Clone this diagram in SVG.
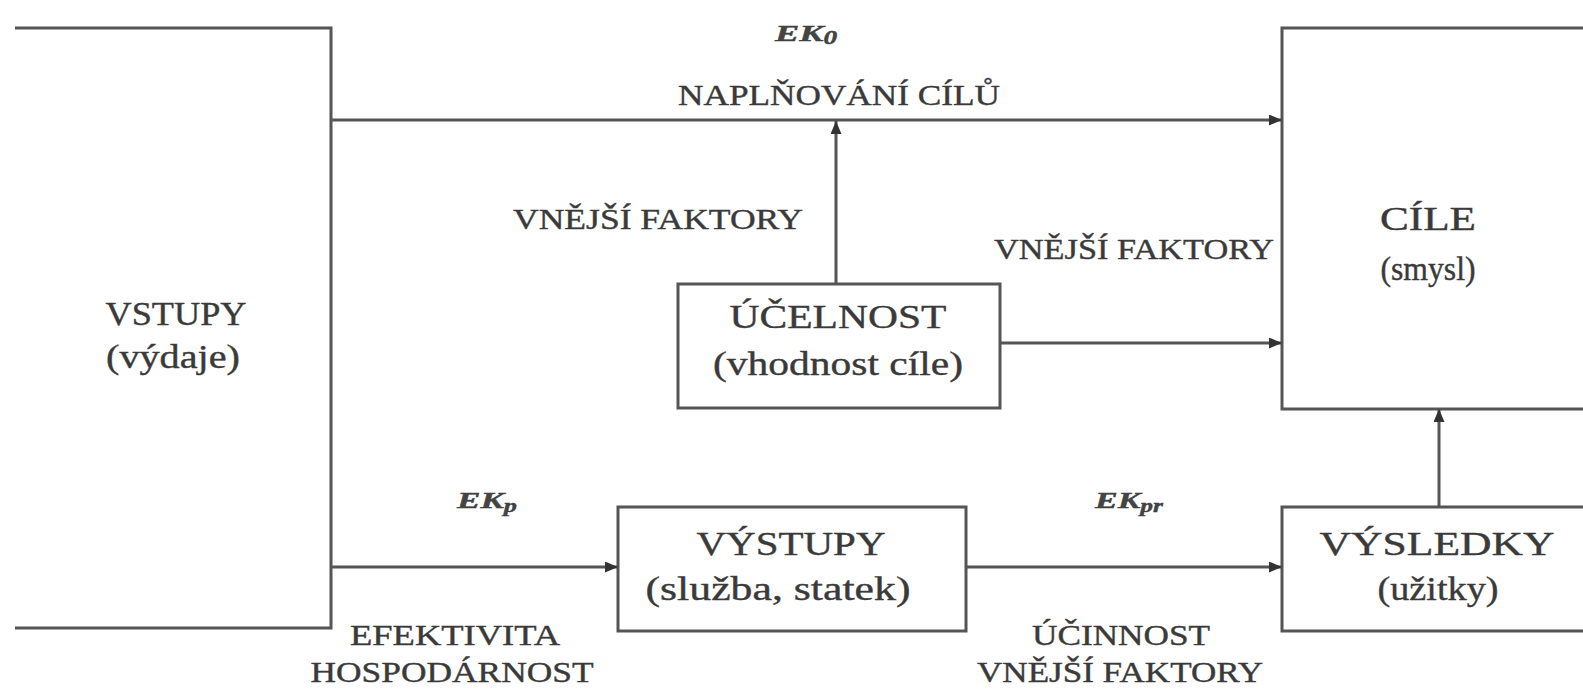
<svg xmlns="http://www.w3.org/2000/svg" width="1583" height="690" viewBox="0 0 1583 690">
<defs>
<style>
.box{fill:#fff;stroke:#555;stroke-width:3}
.edge{fill:none;stroke:#555;stroke-width:3}
.conn{fill:none;stroke:#555;stroke-width:3;marker-end:url(#ah)}
text{font-family:"Liberation Serif","Times New Roman",serif;fill:#3a3a3a;stroke:#3a3a3a;stroke-width:0.4}
.big{font-size:34px}
.mid{font-size:30px}
.lbl{font-size:24px;font-style:italic;font-weight:bold;fill:#444}
.sub{font-size:18px}
</style>
<marker id="ah" viewBox="0 0 13 11" refX="13" refY="5.5" markerWidth="13" markerHeight="11" markerUnits="userSpaceOnUse" orient="auto">
<path d="M0,0 L13,5.5 L0,11 Z" fill="#333"/>
</marker>
</defs>
<rect width="1583" height="690" fill="#fff"/>

<g id="vstupy">
<path class="edge" d="M15,28 H331 V628 H15"/>
<text class="big" x="176" y="325" textLength="141" lengthAdjust="spacingAndGlyphs" text-anchor="middle">VSTUPY</text>
<text class="big" x="173" y="368" textLength="134" lengthAdjust="spacingAndGlyphs" text-anchor="middle">(výdaje)</text>
</g>

<g id="cile">
<path class="edge" d="M1590,28 H1282 V409 H1590"/>
<text class="big" x="1428" y="230" textLength="96" lengthAdjust="spacingAndGlyphs" text-anchor="middle">CÍLE</text>
<text class="big" x="1428" y="280" textLength="95" lengthAdjust="spacingAndGlyphs" text-anchor="middle">(smysl)</text>
</g>

<g id="ucelnost">
<rect class="box" x="678" y="284" width="322" height="124"/>
<text class="big" x="838" y="328" textLength="217" lengthAdjust="spacingAndGlyphs" text-anchor="middle">ÚČELNOST</text>
<text class="big" x="838" y="375" textLength="250" lengthAdjust="spacingAndGlyphs" text-anchor="middle">(vhodnost cíle)</text>
</g>

<g id="vystupy">
<rect class="box" x="618" y="507" width="348" height="124"/>
<text class="big" x="791" y="555" textLength="189" lengthAdjust="spacingAndGlyphs" text-anchor="middle">VÝSTUPY</text>
<text class="big" x="778" y="600" textLength="265" lengthAdjust="spacingAndGlyphs" text-anchor="middle">(služba, statek)</text>
</g>

<g id="vysledky">
<path class="edge" d="M1590,507 H1282 V631 H1590"/>
<text class="big" x="1437" y="555" textLength="235" lengthAdjust="spacingAndGlyphs" text-anchor="middle">VÝSLEDKY</text>
<text class="big" x="1438" y="600" textLength="121" lengthAdjust="spacingAndGlyphs" text-anchor="middle">(užitky)</text>
</g>

<g id="connectors">
<line class="conn" x1="331" y1="120" x2="1282" y2="120"/>
<line class="conn" x1="836" y1="284" x2="836" y2="121"/>
<line class="conn" x1="1000" y1="343" x2="1282" y2="343"/>
<line class="conn" x1="331" y1="567" x2="618" y2="567"/>
<line class="conn" x1="966" y1="567" x2="1282" y2="567"/>
<line class="conn" x1="1439" y1="507" x2="1439" y2="409"/>
</g>

<g id="labels">
<text class="lbl" x="775" y="41" textLength="62" lengthAdjust="spacingAndGlyphs">EK<tspan class="sub" dy="3">0</tspan></text>
<text class="mid" x="839" y="105" textLength="322" lengthAdjust="spacingAndGlyphs" text-anchor="middle">NAPLŇOVÁNÍ CÍLŮ</text>
<text class="mid" x="658" y="229" textLength="290" lengthAdjust="spacingAndGlyphs" text-anchor="middle">VNĚJŠÍ FAKTORY</text>
<text class="mid" x="1134" y="259" textLength="280" lengthAdjust="spacingAndGlyphs" text-anchor="middle">VNĚJŠÍ FAKTORY</text>
<text class="lbl" x="457" y="508" textLength="60" lengthAdjust="spacingAndGlyphs">EK<tspan class="sub" dy="4">p</tspan></text>
<text class="lbl" x="1095" y="508" textLength="68" lengthAdjust="spacingAndGlyphs">EK<tspan class="sub" dy="4">pr</tspan></text>
<text class="mid" x="455" y="645" textLength="210" lengthAdjust="spacingAndGlyphs" text-anchor="middle">EFEKTIVITA</text>
<text class="mid" x="452" y="682" textLength="283" lengthAdjust="spacingAndGlyphs" text-anchor="middle">HOSPODÁRNOST</text>
<text class="mid" x="1121" y="645" textLength="178" lengthAdjust="spacingAndGlyphs" text-anchor="middle">ÚČINNOST</text>
<text class="mid" x="1120" y="682" textLength="286" lengthAdjust="spacingAndGlyphs" text-anchor="middle">VNĚJŠÍ FAKTORY</text>
</g>
</svg>
